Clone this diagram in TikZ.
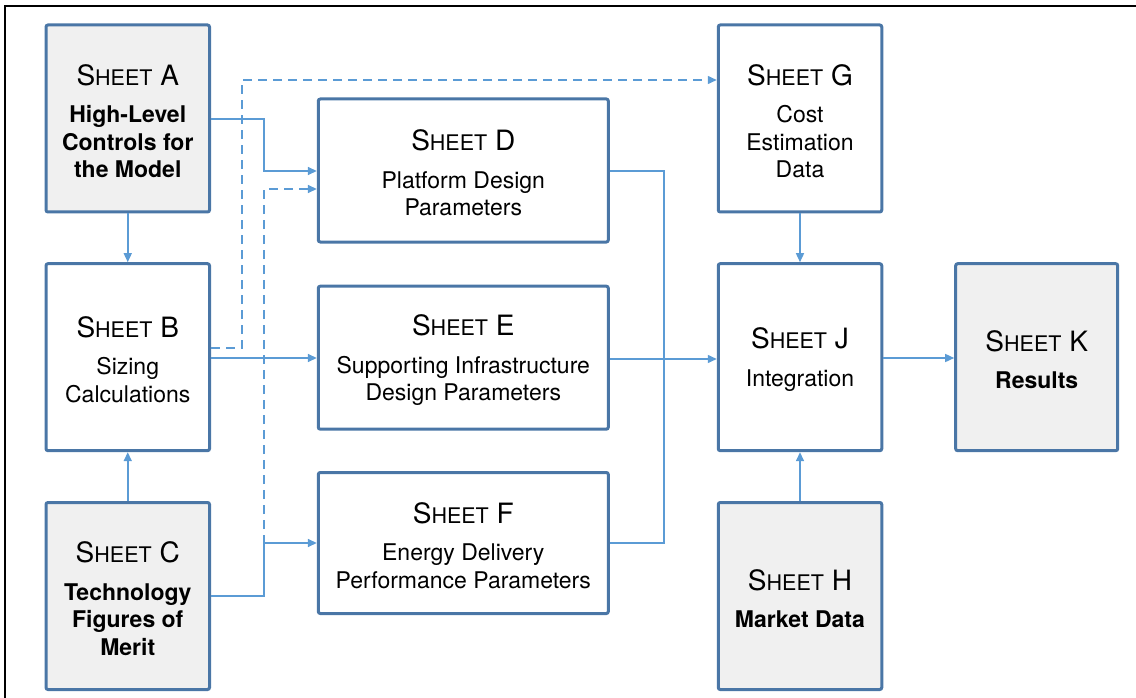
\documentclass[tikz,border=0pt]{standalone}
\usepackage{fontspec}
\setmainfont{TeX Gyre Heros}
\usetikzlibrary{arrows.meta}
\definecolor{boxblue}{HTML}{4A76A6}
\definecolor{linkblue}{HTML}{5B9BD5}
\definecolor{boxgray}{HTML}{F0F0F0}
\newcommand\shtitle[1]{{\rule{0pt}{26pt}\fontsize{28}{28}\selectfont S\fontsize{21.5}{21.5}\selectfont HEET\fontsize{28}{28}\selectfont\ #1}}
\begin{document}
\begin{tikzpicture}[x=1pt,y=-1pt,
  sheetbox/.style={draw=boxblue, line width=3pt, rounded corners=2pt, align=center,
    font=\fontsize{23}{27.5}\selectfont, inner sep=0pt},
  shadedbox/.style={sheetbox, fill=boxgray},
  tallbox/.style={minimum width=163.5pt, minimum height=187pt},
  widebox/.style={minimum width=290pt, minimum height=143pt},
  link/.style={draw=linkblue, line width=1.5pt},
  arrowlink/.style={link, -{Triangle[length=9pt,width=8pt]}},
  dashlink/.style={arrowlink, dash pattern=on 9pt off 6pt}]
\useasboundingbox (0,0) rectangle (1136,698);
\draw[line width=2pt] (5,698) -- (5,6) -- (1136,6);

% boxes
\node[shadedbox, tallbox] (A) at (127.75,118.5) {\shtitle{A}\\[10pt]\textbf{High-Level}\\\textbf{Controls for}\\\textbf{the Model}};
\node[sheetbox, tallbox] (B) at (127.75,357.2) {\shtitle{B}\\[10pt]Sizing\\Calculations};
\node[shadedbox, tallbox] (C) at (127.75,596) {\shtitle{C}\\[10pt]\textbf{Technology}\\\textbf{Figures of}\\\textbf{Merit}};
\node[sheetbox, widebox] (D) at (463.3,170.5) {\shtitle{D}\\[10pt]Platform Design\\Parameters};
\node[sheetbox, widebox] (E) at (463.3,357.7) {\shtitle{E}\\[10pt]Supporting Infrastructure\\Design Parameters};
\node[sheetbox, minimum width=290pt, minimum height=141pt] (F) at (463.3,543) {\shtitle{F}\\[10pt]Energy Delivery\\Performance Parameters};
\node[sheetbox, tallbox] (G) at (800,118.5) {\shtitle{G}\\[10pt]Cost\\Estimation\\Data};
\node[sheetbox, tallbox] (J) at (800,357.2) {\shtitle{J}\\[10pt]Integration};
\node[shadedbox, tallbox] (H) at (800,596) {\shtitle{H}\\[10pt]\textbf{Market Data}};
\node[shadedbox, minimum width=162pt, minimum height=187pt] (K) at (1036.7,357.2) {\shtitle{K}\\[10pt]\textbf{Results}};

% helper levels
\coordinate (yAD) at (0,119);
\coordinate (yD) at (0,171);
\coordinate (yDd) at (0,189);
\coordinate (yG) at (0,80);
\coordinate (yBd) at (0,348);
\coordinate (yMid) at (0,358);
\coordinate (yJ) at (0,359);
\coordinate (yC) at (0,596);
\coordinate (yF) at (0,543);

% connectors
\draw[arrowlink] (A.south) -- (B.north);
\draw[arrowlink] (C.north) -- (B.south);
\draw[arrowlink] (A.east |- yAD) -- (264,119) -- (264,171) -- (D.west |- yD);
\draw[arrowlink] (B.east |- yMid) -- (E.west |- yMid);
\draw[arrowlink] (C.east |- yC) -- (264,596) -- (264,543) -- (F.west |- yF);
\draw[dashlink] (B.east |- yBd) -- (242,348) -- (242,80) -- (G.west |- yG);
\draw[dashlink] (C.east |- yC) -- (264,596) -- (264,189) -- (D.west |- yDd);
\draw[link] (D.east |- yD) -- (664,171) -- (664,359);
\draw[link] (F.east |- yF) -- (664,543) -- (664,359);
\draw[arrowlink] (E.east |- yJ) -- (J.west |- yJ);
\draw[arrowlink] (G.south) -- (J.north);
\draw[arrowlink] (H.north) -- (J.south);
\draw[arrowlink] (J.east |- yMid) -- (K.west |- yMid);
\end{tikzpicture}
\end{document}
